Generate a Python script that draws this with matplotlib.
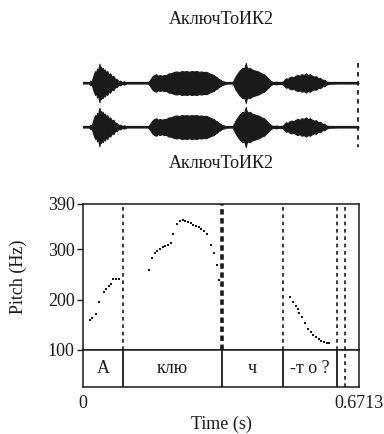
import matplotlib.pyplot as plt
import numpy as np

plt.rcParams['font.family'] = ['Liberation Serif', 'DejaVu Serif']

W, H = 384, 434
t_end = 0.6713
ink = '#1a1a1a'

# waveform envelope (s, relative amplitude)
env_t = [0.000, 0.015, 0.018, 0.021, 0.024, 0.027, 0.030, 0.032, 0.034, 0.036,
         0.038, 0.040, 0.042, 0.044, 0.046, 0.048, 0.050, 0.053, 0.056, 0.059,
         0.062, 0.066, 0.070, 0.074, 0.078, 0.082, 0.086, 0.090, 0.095, 0.100,
         0.106, 0.158, 0.162, 0.166, 0.170, 0.174, 0.178, 0.182, 0.187, 0.192,
         0.197, 0.203, 0.208, 0.213, 0.218, 0.223, 0.228, 0.234, 0.240, 0.246,
         0.252, 0.258, 0.264, 0.270, 0.276, 0.282, 0.288, 0.294, 0.300, 0.306,
         0.312, 0.318, 0.322, 0.326, 0.330, 0.334, 0.338, 0.342, 0.348, 0.364,
         0.368, 0.372, 0.376, 0.380, 0.384, 0.388, 0.392, 0.396, 0.398, 0.402,
         0.406, 0.410, 0.416, 0.422, 0.428, 0.434, 0.440, 0.446, 0.450, 0.454,
         0.458, 0.462, 0.470, 0.478, 0.486, 0.490, 0.494, 0.498, 0.502, 0.507,
         0.512, 0.517, 0.522, 0.527, 0.532, 0.537, 0.542, 0.547, 0.552, 0.557,
         0.562, 0.567, 0.572, 0.577, 0.582, 0.587, 0.592, 0.598, 0.606, 0.618,
         0.670]
env_a = [0.03, 0.03, 0.15, 0.08, 0.35, 0.60, 0.75, 0.55, 0.90, 0.70,
         0.95, 1.20, 0.85, 1.00, 0.80, 0.95, 0.75, 0.85, 0.65, 0.75,
         0.55, 0.60, 0.40, 0.45, 0.25, 0.25, 0.12, 0.15, 0.06, 0.10,
         0.03, 0.03, 0.15, 0.30, 0.45, 0.50, 0.55, 0.45, 0.50, 0.45,
         0.50, 0.50, 0.60, 0.60, 0.65, 0.70, 0.72, 0.68, 0.75, 0.72,
         0.75, 0.70, 0.75, 0.72, 0.75, 0.70, 0.72, 0.68, 0.70, 0.62,
         0.55, 0.50, 0.40, 0.35, 0.25, 0.20, 0.12, 0.10, 0.04, 0.03,
         0.25, 0.45, 0.60, 0.75, 0.85, 0.95, 0.90, 1.25, 1.00, 0.90,
         0.95, 0.85, 0.80, 0.75, 0.70, 0.60, 0.55, 0.40, 0.30, 0.20,
         0.10, 0.06, 0.08, 0.05, 0.08, 0.20, 0.30, 0.25, 0.35, 0.40,
         0.35, 0.45, 0.50, 0.45, 0.55, 0.50, 0.60, 0.50, 0.55, 0.45,
         0.40, 0.42, 0.30, 0.32, 0.20, 0.20, 0.10, 0.05, 0.04, 0.03,
         0.03]

# pitch track (s, Hz)
pitch_t = [0.017, 0.021, 0.032, 0.040, 0.050, 0.056, 0.063, 0.067, 0.074, 0.080, 0.087,
           0.160, 0.168, 0.174, 0.181, 0.187, 0.194, 0.200, 0.207, 0.213, 0.220,
           0.229, 0.236, 0.243, 0.249, 0.256, 0.262, 0.268, 0.275, 0.282, 0.288,
           0.294, 0.301, 0.311, 0.319, 0.325, 0.332,
           0.504, 0.510, 0.517, 0.522, 0.526, 0.533, 0.541, 0.547, 0.554, 0.560,
           0.567, 0.573, 0.580, 0.586, 0.593, 0.599]
pitch_hz = [160, 163, 172, 195, 216, 221, 227, 231, 242, 242, 242,
            258, 282, 293, 297, 301, 304, 307, 309, 312, 330,
            350, 356, 358, 357, 354, 352, 349, 346, 344, 340,
            336, 331, 309, 292, 268, 240,
            205, 196, 188, 182, 174, 166, 154, 141, 136, 130,
            126, 122, 118, 115, 114, 114]

bounds = [0.0966, 0.339, 0.486, 0.617, 0.637]
labels = ['А', 'клю', 'ч', '-т о ?']
title = 'АключТоИК2'


def box(l, t, r, b):
    return [l / W, 1 - b / H, (r - l) / W, (b - t) / H]


fig = plt.figure(figsize=(W / 100, H / 100), dpi=100)

# two-channel waveform, y in pixel units
axw = fig.add_axes(box(83, 55, 359, 150))
axw.set_xlim(0, t_end)
axw.set_ylim(150, 55)
axw.axis('off')
env_t = np.array(env_t)
env_a = np.array(env_a) * 16
for yc in (83, 127):
    axw.fill_between(env_t, yc - env_a, yc + env_a, color=ink, lw=0.8)
    axw.plot([0, t_end], [yc, yc], color=ink, lw=1.6)
axw.plot([t_end * 0.996] * 2, [63, 147], color=ink, lw=1.3, ls=(0, (2.5, 2.5)))

fig.text(221 / W, 1 - 20 / H, title, ha='center', va='center', fontsize=13, color=ink)
fig.text(221 / W, 1 - 164 / H, title, ha='center', va='center', fontsize=13, color=ink)

# pitch panel
ax = fig.add_axes(box(83, 204, 359, 350))
ax.set_xlim(0, t_end)
ax.set_ylim(100, 390)
ax.set_yticks([100, 200, 300, 390])
ax.set_xticks([])
ax.tick_params(axis='y', length=4, width=1, pad=2, labelsize=13, colors=ink)
for s in ax.spines.values():
    s.set_linewidth(1.1)
    s.set_color(ink)
for i, b in enumerate(bounds):
    if i == 1:
        ax.axvline(b, color=ink, lw=2.6, ls=(0, (1.5, 1.0)))
    else:
        ax.axvline(b, color=ink, lw=1.2, ls=(0, (2.2, 2.2)))
ax.plot(pitch_t, pitch_hz, 's', color=ink, ms=2.0, mew=0)

# text tier
axt = fig.add_axes(box(83, 350, 359, 387))
axt.set_xlim(0, t_end)
axt.set_ylim(0, 1)
axt.set_yticks([])
axt.set_xticks([0, t_end])
axt.set_xticklabels(['0', '0.6713'])
axt.tick_params(axis='x', length=0, pad=6, labelsize=13, colors=ink)
for s in axt.spines.values():
    s.set_linewidth(1.1)
    s.set_color(ink)
for i, b in enumerate(bounds):
    if i < 4:
        axt.axvline(b, color=ink, lw=1.3)
    else:
        axt.axvline(b, color=ink, lw=1.2, ls=(0, (2.2, 2.2)))
edges = [0] + bounds[:4]
for i, lab in enumerate(labels):
    axt.text((edges[i] + edges[i + 1]) / 2, 0.5, lab, ha='center', va='center',
             fontsize=13, color=ink)

fig.text(18 / W, 1 - 277 / H, 'Pitch (Hz)', rotation=90, ha='center', va='center',
         fontsize=13, color=ink)
fig.text(221 / W, 1 - 424 / H, 'Time (s)', ha='center', va='center', fontsize=13, color=ink)

fig.savefig('out.png', dpi=100)
